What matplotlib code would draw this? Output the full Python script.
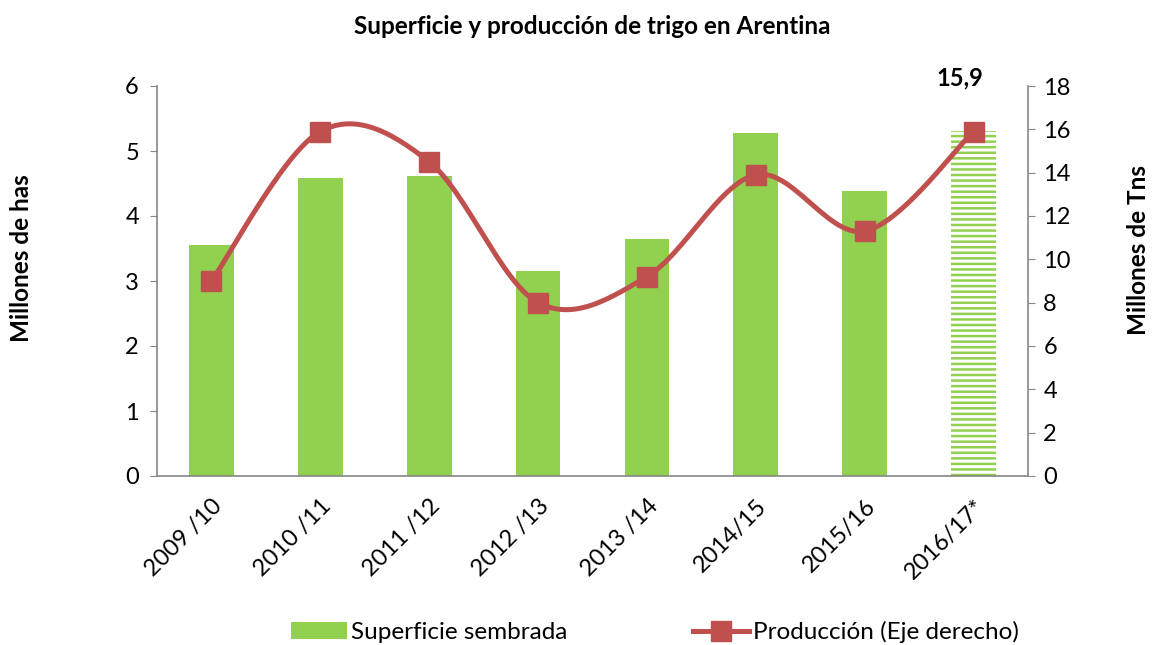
import numpy as np
import matplotlib.pyplot as plt
from matplotlib.lines import Line2D
from matplotlib.patches import Patch

plt.rcParams['font.family'] = ['Lato', 'DejaVu Sans']

# datos
campanas = ['2009 /10', '2010 /11', '2011 /12', '2012 /13', '2013 /14', '2014/15', '2015/16', '2016/17*']
superficie = [3.56, 4.58, 4.62, 3.16, 3.65, 5.27, 4.38, 5.31]
produccion = [9.0, 15.9, 14.5, 8.0, 9.2, 13.9, 11.3, 15.9]

verde = '#92D050'
rojo = '#C0504D'
gris = '#868686'

# curva suavizada tipo Excel (Catmull-Rom)
def suavizar(x, y, n=30):
    x = np.asarray(x, float)
    y = np.asarray(y, float)
    px = np.concatenate([[x[0]], x, [x[-1]]])
    py = np.concatenate([[y[0]], y, [y[-1]]])
    xs, ys = [], []
    t = np.linspace(0, 1, n)
    for i in range(1, len(px) - 2):
        p0, p1, p2, p3 = (np.array([px[j], py[j]]) for j in range(i - 1, i + 3))
        b1 = p1 + (p2 - p0) / 6
        b2 = p2 - (p3 - p1) / 6
        pts = ((1 - t) ** 3)[:, None] * p1 + (3 * (1 - t) ** 2 * t)[:, None] * b1 \
            + (3 * (1 - t) * t ** 2)[:, None] * b2 + (t ** 3)[:, None] * p2
        xs.extend(pts[:, 0])
        ys.extend(pts[:, 1])
    return np.array(xs), np.array(ys)

fig = plt.figure(figsize=(11.52, 6.45), dpi=100)
ax = fig.add_axes([157 / 1152, 1 - 476 / 645, 871 / 1152, 390 / 645])
x = np.arange(len(campanas))

plt.rcParams['hatch.linewidth'] = 1.8
ax.bar(x[:-1], superficie[:-1], width=0.41, color=verde, zorder=2)
ax.bar(x[-1], superficie[-1], width=0.41, facecolor='white', edgecolor=verde,
       hatch='---', linewidth=0, zorder=2)

ax.set_xlim(-0.5, len(campanas) - 0.5)
ax.set_ylim(0, 6)
ax.set_yticks(range(0, 7))
ax.set_xticks(x)
ax.set_xticklabels(campanas, rotation=45, ha='right', rotation_mode='anchor', fontsize=17)
ax.tick_params(axis='x', length=0, pad=14)
ax.tick_params(axis='y', labelsize=17, length=5, color=gris, pad=8)
for s in ['top', 'right']:
    ax.spines[s].set_visible(False)
for s in ['left', 'bottom']:
    ax.spines[s].set_color(gris)
    ax.spines[s].set_linewidth(1.2)

ax2 = ax.twinx()
ax2.set_ylim(0, 18)
ax2.set_yticks(range(0, 19, 2))
ax2.tick_params(axis='y', labelsize=17, length=5, color=gris, pad=6)
for s in ['top', 'left', 'bottom']:
    ax2.spines[s].set_visible(False)
ax2.spines['right'].set_color(gris)
ax2.spines['right'].set_linewidth(1.2)

xs, ys = suavizar(x, produccion)
ax2.plot(xs, ys, color=rojo, lw=3.6, zorder=3)
ax2.plot(x, produccion, 's', color=rojo, ms=14.5, zorder=4)
ax2.annotate('15,9', (x[-1], produccion[-1]), xytext=(-10, 30),
             textcoords='offset points', ha='center', va='bottom',
             fontsize=17, fontweight='bold')

fig.text(592 / 1152, 1 - 27 / 645, 'Superficie y producción de trigo en Arentina',
         ha='center', va='center', fontsize=17.5, fontweight='bold')
fig.text(22 / 1152, 1 - 258 / 645, 'Millones de has', rotation=90,
         ha='center', va='center', fontsize=17.5, fontweight='bold')
fig.text(1138 / 1152, 1 - 250 / 645, 'Millones de Tns', rotation=90,
         ha='center', va='center', fontsize=17.5, fontweight='bold')

handles = [Patch(facecolor=verde),
           Line2D([], [], color=rojo, lw=3.6, marker='s', ms=14.5)]
fig.legend(handles, ['Superficie sembrada', 'Producción (Eje derecho)'],
           loc='center', bbox_to_anchor=(655 / 1152, 1 - 632 / 645), ncol=2,
           frameon=False, fontsize=17.5, handlelength=2.3, handletextpad=0.15,
           columnspacing=5.2)

fig.savefig('out.png', dpi=100)
